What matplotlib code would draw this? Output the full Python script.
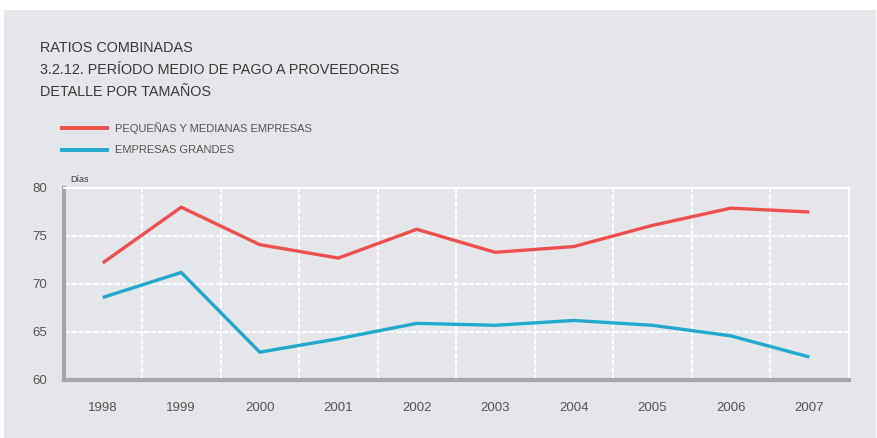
import matplotlib
matplotlib.use("Agg")
import matplotlib.pyplot as plt
from matplotlib.patches import Rectangle
from matplotlib.ticker import FixedLocator

years = ["1998", "1999", "2000", "2001", "2002", "2003", "2004", "2005", "2006", "2007"]
pymes = [72.2, 78.0, 74.1, 72.7, 75.7, 73.3, 73.9, 76.1, 77.9, 77.5]
grandes = [68.6, 71.2, 62.9, 64.3, 65.9, 65.7, 66.2, 65.7, 64.6, 62.4]
series_labels = ["PEQUEÑAS Y MEDIANAS EMPRESAS", "EMPRESAS GRANDES"]
title_lines = ["RATIOS COMBINADAS",
               "3.2.12. PERÍODO MEDIO DE PAGO A PROVEEDORES",
               "DETALLE POR TAMAÑOS"]
y_ticks = [60, 65, 70, 75, 80]
unit_label = "Días"

BG = "#e4e6e9"
RED = "#ef4f4a"
BLUE = "#20a8cf"
TXT = "#3a3a3a"
W, H = 877, 438

plt.rcParams["font.family"] = ["Liberation Sans", "DejaVu Sans"]

fig = plt.figure(figsize=(W / 100, H / 100), dpi=100)
fig.patch.set_facecolor("white")
fig.add_artist(Rectangle((4 / W, 0), 872 / W, 428 / H, transform=fig.transFigure,
                         facecolor=BG, edgecolor="none", zorder=-10))

ax = fig.add_axes([63.5 / W, 58 / H, 785 / W, 192 / H])
ax.set_zorder(5)
ax.set_facecolor(BG)

x = list(range(len(years)))
ax.plot(x, pymes, color=RED, lw=2.4, solid_capstyle="butt", zorder=3)
ax.plot(x, grandes, color=BLUE, lw=2.4, solid_capstyle="butt", zorder=3)

ax.set_xlim(-0.5, len(years) - 0.5)
ax.set_ylim(60, 80)
ax.set_xticks(x)
ax.set_xticklabels(years)
ax.set_yticks(y_ticks)
ax.xaxis.set_minor_locator(FixedLocator([i + 0.5 for i in x]))

ax.grid(axis="y", which="major", color="white", lw=1.3, ls=(0, (3, 1)))
ax.grid(axis="x", which="minor", color="white", lw=1.3, ls=(0, (3, 1)))
ax.set_axisbelow(True)

for side in ("top", "right"):
    ax.spines[side].set_visible(True)
    ax.spines[side].set_color("white")
    ax.spines[side].set_linewidth(1.3)
    ax.spines[side].set_linestyle((0, (3, 1)))
for side in ("left", "bottom"):
    ax.spines[side].set_color("#a3a5a8")
    ax.spines[side].set_linewidth(3)

ax.tick_params(which="both", length=0)
ax.tick_params(axis="x", pad=16, labelsize=9.5, labelcolor="#555555")
ax.tick_params(axis="y", pad=12, labelsize=9.5, labelcolor="#555555")

ax.text(0.008, 1.02, unit_label, transform=ax.transAxes, fontsize=6.5,
        color=TXT, ha="left", va="bottom")

# title block
for i, line in enumerate(title_lines):
    fig.text(40 / W, 1 - (48 + 22 * i) / H, line, fontsize=10.4, color=TXT,
             ha="left", va="center")

# legend
for i, (lab, col) in enumerate(zip(series_labels, [RED, BLUE])):
    yy = 1 - (128 + 22 * i) / H
    fig.add_artist(plt.Line2D([62 / W, 107 / W], [yy, yy], color=col, lw=2.8,
                              transform=fig.transFigure))
    fig.text(115 / W, yy, lab, fontsize=8, color="#555555", ha="left", va="center")

fig.savefig("out.png", dpi=100, facecolor=fig.get_facecolor())
